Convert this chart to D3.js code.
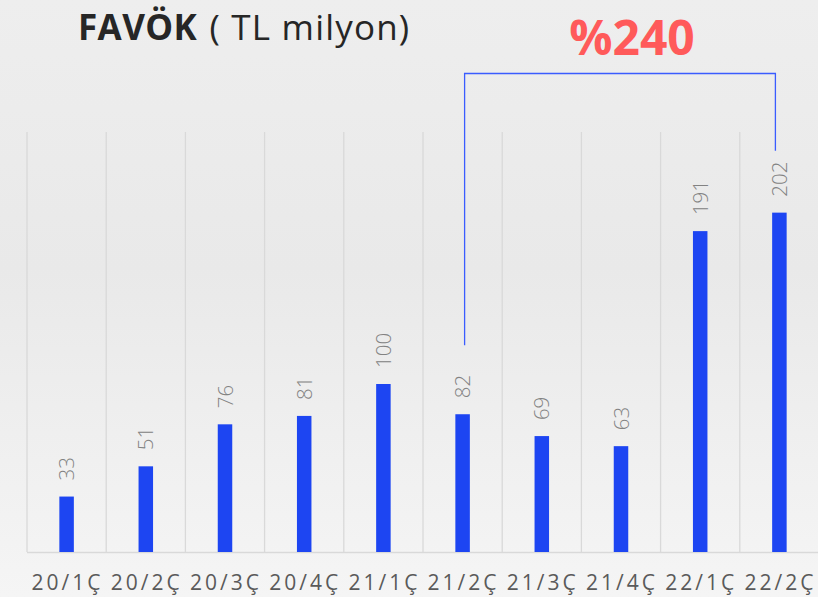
<!DOCTYPE html>
<html><head><meta charset="utf-8">
<script src="https://cdn.jsdelivr.net/npm/d3@7"></script>
<style>body{margin:0;padding:0;overflow:hidden}svg{display:block}</style>
</head><body>
<script>
const categories = ["20/1Ç","20/2Ç","20/3Ç","20/4Ç","21/1Ç","21/2Ç","21/3Ç","21/4Ç","22/1Ç","22/2Ç"];
const values = [33,51,76,81,100,82,69,63,191,202];
const titleBold = "FAVÖK";
const titleRest = " ( TL milyon)";
const growthLabel = "%240";
const growthFrom = "21/2Ç", growthTo = "22/2Ç";

const W = 818, H = 597;
const svg = d3.select("body").append("svg").attr("width", W).attr("height", H);
const defs = svg.append("defs");
const g = defs.append("linearGradient").attr("id","bg").attr("x1",0).attr("y1",0).attr("x2",0).attr("y2",1);
g.append("stop").attr("offset","0%").attr("stop-color","#eeeeee");
g.append("stop").attr("offset","45%").attr("stop-color","#e9e9e9");
g.append("stop").attr("offset","100%").attr("stop-color","#f5f5f5");
svg.append("rect").attr("width",W).attr("height",H).attr("fill","url(#bg)");

const x = d3.scaleBand().domain(categories).range([27, 819]).paddingInner(0).paddingOuter(0);
const y = d3.scaleLinear().domain([0,250]).range([552,132]);
const bw = 14.5;

// grid lines
svg.append("g").selectAll("line").data(categories).join("line")
  .attr("x1", d => x(d)).attr("x2", d => x(d))
  .attr("y1", y(250)).attr("y2", y(0))
  .attr("stroke","#d9d9d9").attr("stroke-width",1.3);
// baseline
svg.append("line").attr("x1", x.range()[0]).attr("x2", x.range()[1])
  .attr("y1", y(0)+0.5).attr("y2", y(0)+0.5).attr("stroke","#d9d9d9").attr("stroke-width",1.5);

// bars
svg.append("g").selectAll("rect").data(values).join("rect")
  .attr("x", (d,i) => x(categories[i]) + x.bandwidth()/2 - bw/2)
  .attr("width", bw)
  .attr("y", d => y(d))
  .attr("height", d => y(0) - y(d))
  .attr("fill","#1d45f2");

// value labels
svg.append("g").selectAll("text").data(values).join("text")
  .attr("transform", (d,i) => `translate(${x(categories[i]) + x.bandwidth()/2 + 7.5},${y(d) - 16}) rotate(-90)`)
  .attr("text-anchor","start")
  .attr("font-family","'Open Sans', sans-serif")
  .attr("font-weight",300)
  .attr("font-size",20.5)
  .attr("fill","#828282")
  .text(d => d);

// x axis labels
svg.append("g").selectAll("text").data(categories).join("text")
  .attr("x", d => x(d) + x.bandwidth()/2 + 1)
  .attr("y", 590)
  .attr("text-anchor","middle")
  .attr("font-family","'Open Sans', sans-serif")
  .attr("font-size",21)
  .attr("letter-spacing",3)
  .attr("fill","#5a5a5a")
  .text(d => d);

// title
const t = svg.append("text").attr("x",78).attr("y",40)
  .attr("font-family","'Open Sans', sans-serif").attr("font-size",35).attr("fill","#262626");
t.append("tspan").attr("font-weight",700).attr("letter-spacing",0.4).text(titleBold);
t.append("tspan").attr("font-weight",400).attr("letter-spacing",1.2).attr("dx",2).text(titleRest);

// growth bracket
const xa = x(growthFrom) + x.bandwidth()/2 + 2;
const xb = x(growthTo) + x.bandwidth()/2 - 4;
const vFrom = values[categories.indexOf(growthFrom)];
const vTo = values[categories.indexOf(growthTo)];
const topY = 73.5;
svg.append("path")
  .attr("d", `M${xa},${y(vFrom) - 69} V${topY} H${xb} V${y(vTo) - 62}`)
  .attr("fill","none").attr("stroke","#3a5cff").attr("stroke-width",1.3);

svg.append("text").attr("x",(xa+xb)/2 + 12).attr("y",55)
  .attr("text-anchor","middle")
  .attr("font-family","'Open Sans', sans-serif").attr("font-weight",700)
  .attr("font-size",48).attr("fill","#ff5a5a")
  .text(growthLabel);
</script>
</body></html>
